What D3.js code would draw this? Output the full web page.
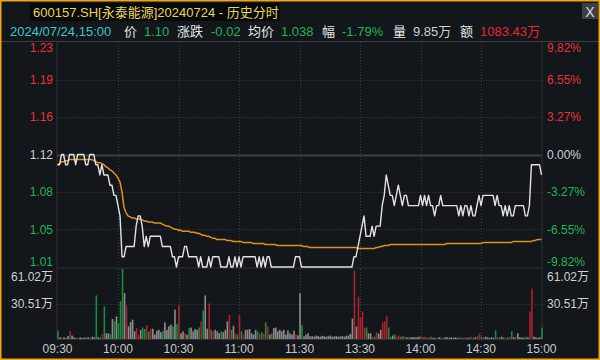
<!DOCTYPE html>
<html>
<head>
<meta charset="utf-8">
<script src="https://cdn.jsdelivr.net/npm/d3@7"></script>
<style>
  html, body { margin: 0; padding: 0; background: #13161b; }
  svg { display: block; font-family: "Liberation Sans", Arial, "Noto Sans CJK SC", sans-serif; }
</style>
</head>
<body>
<svg id="chart" width="600" height="360"></svg>
<script>
// Intraday data for 600157.SH, one value per minute (09:30..11:30, 13:01..15:00)
const preClose = 1.12;

const price = [
  1.11,1.11,1.12,1.12,1.11,1.11,1.12,1.12,1.12,1.11,
  1.12,1.12,1.12,1.12,1.11,1.11,1.12,1.12,1.12,1.11,
  1.11,1.10,1.11,1.10,1.10,1.10,1.09,1.09,1.08,1.08,
  1.07,1.06,1.02,1.02,1.03,1.03,1.03,1.03,1.03,1.05,
  1.06,1.06,1.05,1.03,1.04,1.03,1.04,1.04,1.04,1.04,
  1.04,1.04,1.03,1.03,1.03,1.03,1.03,1.02,1.02,1.01,
  1.02,1.02,1.02,1.03,1.03,1.02,1.02,1.02,1.02,1.02,
  1.01,1.02,1.01,1.01,1.01,1.02,1.01,1.02,1.02,1.02,
  1.02,1.01,1.01,1.01,1.01,1.02,1.01,1.01,1.02,1.01,
  1.02,1.01,1.02,1.02,1.02,1.02,1.02,1.02,1.02,1.01,
  1.02,1.01,1.02,1.01,1.02,1.02,1.01,1.01,1.01,1.01,
  1.01,1.01,1.01,1.01,1.01,1.01,1.01,1.01,1.02,1.02,
  1.02,1.01,1.01,1.01,1.01,1.01,1.01,1.01,1.01,1.01,
  1.01,1.01,1.01,1.01,1.01,1.01,1.01,1.01,1.01,1.01,
  1.01,1.01,1.01,1.01,1.01,1.01,1.01,1.02,1.02,1.03,
  1.04,1.05,1.06,1.04,1.04,1.04,1.05,1.04,1.05,1.05,
  1.05,1.07,1.08,1.10,1.09,1.08,1.08,1.07,1.08,1.09,
  1.08,1.07,1.08,1.08,1.07,1.07,1.07,1.07,1.07,1.07,
  1.08,1.07,1.08,1.07,1.08,1.07,1.07,1.06,1.07,1.07,
  1.08,1.07,1.07,1.07,1.07,1.07,1.07,1.07,1.07,1.06,
  1.07,1.06,1.07,1.07,1.06,1.07,1.06,1.06,1.07,1.08,
  1.07,1.08,1.08,1.08,1.08,1.08,1.08,1.07,1.08,1.07,
  1.07,1.06,1.07,1.06,1.07,1.06,1.06,1.07,1.07,1.07,
  1.07,1.07,1.06,1.06,1.07,1.11,1.11,1.11,1.11,1.11,
  1.10
];

const avgPrice = [
  1.110,1.111,1.113,1.113,1.114,1.114,1.115,1.115,1.115,1.115,
  1.115,1.115,1.115,1.115,1.115,1.115,1.115,1.115,1.114,1.113,
  1.112,1.112,1.111,1.110,1.108,1.107,1.105,1.104,1.102,1.100,
  1.097,1.093,1.083,1.068,1.063,1.060,1.059,1.058,1.058,1.057,
  1.057,1.057,1.056,1.055,1.055,1.054,1.054,1.054,1.053,1.053,
  1.053,1.053,1.052,1.051,1.050,1.050,1.049,1.048,1.047,1.047,
  1.046,1.046,1.045,1.045,1.045,1.045,1.044,1.044,1.044,1.043,
  1.043,1.042,1.041,1.041,1.040,1.040,1.039,1.038,1.038,1.037,
  1.037,1.037,1.037,1.037,1.036,1.036,1.036,1.035,1.035,1.035,
  1.035,1.035,1.034,1.034,1.034,1.034,1.034,1.033,1.033,1.033,
  1.033,1.033,1.033,1.032,1.032,1.032,1.032,1.032,1.032,1.031,
  1.031,1.031,1.031,1.031,1.031,1.031,1.031,1.031,1.031,1.031,
  1.031,1.031,1.030,1.030,1.030,1.029,1.029,1.029,1.029,1.029,
  1.029,1.029,1.029,1.029,1.029,1.029,1.029,1.029,1.029,1.029,
  1.029,1.029,1.029,1.029,1.029,1.029,1.029,1.029,1.029,1.028,
  1.028,1.028,1.028,1.028,1.028,1.028,1.028,1.028,1.029,1.029,
  1.030,1.030,1.031,1.031,1.031,1.032,1.032,1.032,1.032,1.032,
  1.032,1.032,1.032,1.032,1.032,1.032,1.032,1.032,1.032,1.032,
  1.032,1.032,1.032,1.032,1.032,1.032,1.032,1.032,1.032,1.032,
  1.032,1.032,1.032,1.033,1.033,1.033,1.033,1.033,1.033,1.033,
  1.033,1.033,1.033,1.033,1.033,1.033,1.033,1.033,1.033,1.033,
  1.033,1.034,1.034,1.034,1.034,1.034,1.034,1.034,1.034,1.034,
  1.034,1.034,1.034,1.034,1.034,1.034,1.035,1.035,1.035,1.035,
  1.035,1.035,1.035,1.035,1.035,1.035,1.036,1.036,1.037,1.037,
  1.037
];

// volume per minute, in 万
const volume = [
  7.3,1.5,1.2,1.5,1.0,2.5,6.7,3.0,1.5,1.0,
  1.2,1.5,0.8,1.2,1.5,1.5,1.0,2.0,1.5,38.0,
  1.5,1.2,4.0,28.5,5.0,5.0,4.0,17.4,15.4,19.8,
  14.0,33.0,61.02,40.0,29.0,11.0,14.8,16.9,6.7,9.6,
  3.8,8.0,10.0,8.7,12.0,6.7,9.0,9.0,3.8,7.3,
  8.0,6.0,7.0,14.5,8.0,11.0,12.5,11.0,25.6,13.0,
  29.3,5.0,6.7,5.0,3.8,9.6,10.0,6.7,8.7,8.0,
  10.0,15.4,25.0,38.0,9.0,31.0,8.0,6.7,8.0,6.7,
  5.0,6.7,6.0,8.0,15.4,21.0,8.0,11.6,4.6,3.8,
  21.0,6.7,3.8,8.0,8.0,8.7,5.0,3.8,8.0,6.7,
  4.6,6.0,4.6,14.5,11.0,3.8,5.0,9.6,10.0,6.7,
  8.0,6.7,8.0,3.8,7.5,5.0,3.8,7.3,3.8,3.2,
  40.0,12.0,2.3,3.8,5.0,2.3,2.5,2.0,3.0,2.5,
  2.0,2.8,2.3,2.0,2.5,3.0,2.0,2.3,2.5,2.0,
  2.3,2.5,2.0,2.8,3.0,4.5,17.7,59.6,11.0,37.0,
  19.0,24.0,9.6,10.0,5.0,5.0,2.0,2.0,6.0,4.6,
  8.0,14.5,15.4,19.8,10.0,2.0,3.0,4.0,2.0,3.0,
  2.0,2.5,2.0,1.5,1.5,1.5,1.8,1.5,1.5,2.0,
  2.5,1.5,2.0,1.0,1.5,2.0,1.0,1.5,1.0,1.5,
  1.5,1.0,1.5,1.5,1.0,1.5,1.0,1.5,1.0,1.5,
  1.5,1.0,1.5,1.0,1.5,2.0,1.0,1.5,2.5,4.5,
  2.0,1.5,2.0,1.5,1.0,1.5,1.0,7.5,1.5,1.5,
  2.0,1.5,1.0,1.5,2.0,6.7,1.5,2.0,5.0,1.5,
  1.5,1.0,2.0,1.5,24.0,44.0,2.0,1.5,1.0,1.5,
  9.85
];

// axis ticks
const priceTicks = [1.23, 1.1933, 1.1567, 1.12, 1.0833, 1.0467, 1.01];
const priceLabels = ["1.23", "1.19", "1.16", "1.12", "1.08", "1.05", "1.01"];
const pctLabels = ["9.82%", "6.55%", "3.27%", "0.00%", "-3.27%", "-6.55%", "-9.82%"];
const volTicks = [61.02, 30.51];
const volLabels = ["61.02万", "30.51万"];
const timeIdx = [0, 30, 60, 90, 120, 150, 180, 210, 240];
const timeLabels = ["09:30", "10:00", "10:30", "11:00", "11:30", "13:30", "14:00", "14:30", "15:00"];

// header
const titleText = "600157.SH[永泰能源]20240724 - 历史分时";
const infoItems = [
  { t: "2024/07/24,15:00", x: 10,  c: "#3fc6cc" },
  { t: "价",     x: 124, c: "#e8e8e8" },
  { t: "1.10",   x: 144, c: "#22b455" },
  { t: "涨跌",   x: 177, c: "#e8e8e8" },
  { t: "-0.02",  x: 211, c: "#22b455" },
  { t: "均价",   x: 248, c: "#e8e8e8" },
  { t: "1.038",  x: 281, c: "#22b455" },
  { t: "幅",     x: 322, c: "#e8e8e8" },
  { t: "-1.79%", x: 342, c: "#22b455" },
  { t: "量",     x: 393, c: "#e8e8e8" },
  { t: "9.85万", x: 413, c: "#cfcfcf" },
  { t: "额",     x: 460, c: "#e8e8e8" },
  { t: "1083.43万", x: 480, c: "#e8262f" }
];

const W = 600, H = 360;
const left = 57.5, right = 541.5;
const red = "#e8313a", green = "#22b455", grey = "#d0d0d0";
const gridCol = "#3a3e44";

const svg = d3.select("#chart");
svg.append("rect").attr("width", W).attr("height", H).attr("fill", "#13161b");

// scales
const x = d3.scaleLinear().domain([0, 240]).range([left, right]);
const y = d3.scaleLinear().domain([preClose - 0.11, preClose + 0.11]).range([267, 42]);
const yv = d3.scaleLinear().domain([0, 61.02]).range([339, 269]);

// header texts
svg.append("rect").attr("x", 30).attr("y", 3).attr("width", 250).attr("height", 18).attr("fill", "#08090b");
svg.append("text").attr("x", 33).attr("y", 17).style("font-size", "13px")
  .attr("fill", "#e6d65a").text(titleText);
svg.selectAll(".info").data(infoItems).enter().append("text")
  .attr("class", "info")
  .attr("x", d => d.x).attr("y", 36)
  .style("font-size", "13px")
  .attr("fill", d => d.c)
  .text(d => d.t);

// close button
svg.append("rect").attr("x", 582).attr("y", 3).attr("width", 16).attr("height", 16).attr("fill", "#3c3f45");
svg.append("text").attr("x", 590).attr("y", 16.5).attr("text-anchor", "middle")
  .style("font-size", "14px").attr("fill", "#dddddd").text("X");

// frame lines
svg.append("line").attr("x1", 0).attr("x2", W).attr("y1", 41.5).attr("y2", 41.5)
  .attr("stroke", "#3c4046");
const g = svg.append("g");
[left - 0.5, right + 0.5].forEach(xx => {
  g.append("line").attr("x1", xx).attr("x2", xx).attr("y1", 42).attr("y2", 340)
    .attr("stroke", "#2e3238");
});
g.append("line").attr("x1", left).attr("x2", right).attr("y1", 268).attr("y2", 268).attr("stroke", "#2e3238");
g.append("line").attr("x1", left).attr("x2", right).attr("y1", 339.5).attr("y2", 339.5).attr("stroke", "#2e3238");

// horizontal grid in price panel
priceTicks.forEach((v, i) => {
  if (i === 0 || i === priceTicks.length - 1) return;
  const l = g.append("line").attr("x1", left).attr("x2", right)
    .attr("y1", Math.round(y(v)) + 0.5).attr("y2", Math.round(y(v)) + 0.5);
  if (v === preClose) l.attr("stroke", "#3d4147").attr("stroke-width", 2);
  else l.attr("stroke", gridCol).attr("stroke-dasharray", "1,2");
});
// volume mid grid
g.append("line").attr("x1", left).attr("x2", right)
  .attr("y1", Math.round(yv(volTicks[1])) + 0.5).attr("y2", Math.round(yv(volTicks[1])) + 0.5)
  .attr("stroke", gridCol).attr("stroke-dasharray", "1,2");
// vertical grid
timeIdx.slice(1, -1).forEach(t => {
  const xx = Math.round(x(t)) + 0.5;
  g.append("line").attr("x1", xx).attr("x2", xx).attr("y1", 42).attr("y2", 267)
    .attr("stroke", gridCol).attr("stroke-dasharray", "1,2");
  g.append("line").attr("x1", xx).attr("x2", xx).attr("y1", 269).attr("y2", 339)
    .attr("stroke", gridCol).attr("stroke-dasharray", "1,2");
});

// axis labels
function tickColor(v) {
  if (Math.abs(v - preClose) < 1e-6) return grey;
  return v > preClose ? red : green;
}
const labY = v => Math.min(261.5, Math.max(48, y(v)));
priceTicks.forEach((v, i) => {
  g.append("text").attr("x", 53).attr("y", labY(v)).attr("dy", "0.35em")
    .attr("text-anchor", "end").style("font-size", "12px")
    .attr("fill", tickColor(v)).text(priceLabels[i]);
  g.append("text").attr("x", 547).attr("y", labY(v)).attr("dy", "0.35em")
    .style("font-size", "12px")
    .attr("fill", tickColor(v)).text(pctLabels[i]);
});
volTicks.forEach((v, i) => {
  const yy = Math.max(276.5, yv(v));
  g.append("text").attr("x", 53).attr("y", yy).attr("dy", "0.35em")
    .attr("text-anchor", "end").style("font-size", "12px").attr("fill", grey).text(volLabels[i]);
  g.append("text").attr("x", 547).attr("y", yy).attr("dy", "0.35em")
    .style("font-size", "12px").attr("fill", grey).text(volLabels[i]);
});
timeIdx.forEach((t, i) => {
  g.append("text").attr("x", x(t)).attr("y", 349).attr("dy", "0.35em")
    .attr("text-anchor", "middle").style("font-size", "12px")
    .attr("fill", "#c8c8c8").text(timeLabels[i]);
});

// volume bars, coloured by minute change of price
g.append("g").selectAll("rect").data(volume).enter().append("rect")
  .attr("x", (d, i) => x(i) - 0.3)
  .attr("width", 1.6)
  .attr("y", d => yv(d))
  .attr("height", d => 339 - yv(d))
  .attr("fill", (d, i) => {
    const prev = i === 0 ? preClose : price[i - 1];
    if (price[i] > prev + 1e-9) return "#a8232c";
    if (price[i] < prev - 1e-9) return "#1e8a3c";
    return "#8c8c8c";
  });

// average price line
g.append("path").datum(avgPrice)
  .attr("fill", "none").attr("stroke", "#e38f1c").attr("stroke-width", 1.5)
  .attr("d", d3.line().x((d, i) => x(i)).y(d => y(d)));

// price line
g.append("path").datum(price)
  .attr("fill", "none").attr("stroke", "#e2e2e2").attr("stroke-width", 1.4)
  .attr("stroke-linejoin", "round")
  .attr("d", d3.line().x((d, i) => x(i)).y(d => y(d)));

// outer orange frame
svg.append("rect").attr("x", 0.75).attr("y", 0.75).attr("width", W - 1.5).attr("height", H - 1.5)
  .attr("fill", "none").attr("stroke", "#f0a516").attr("stroke-width", 1.5);
</script>
</body>
</html>
